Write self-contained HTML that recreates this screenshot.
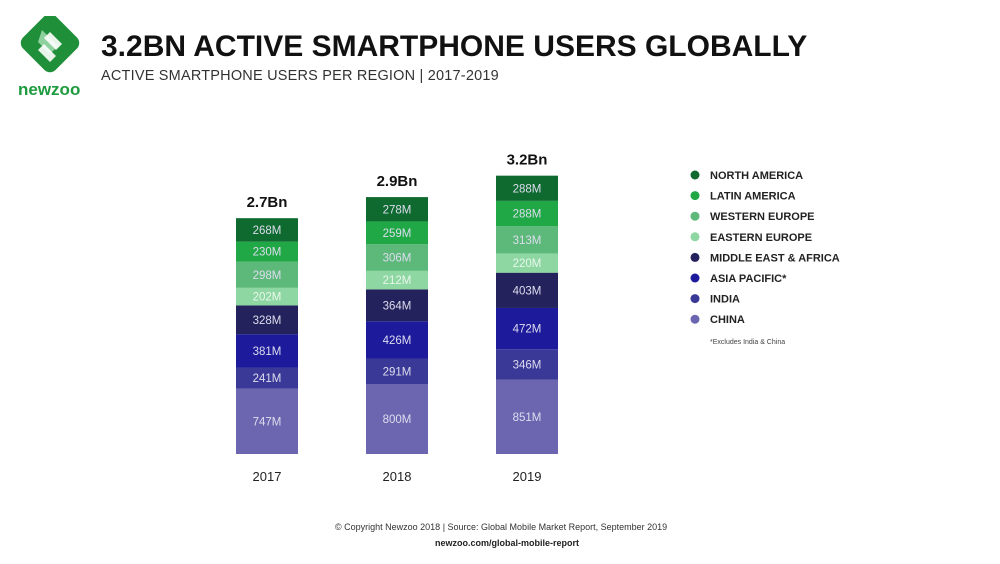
<!DOCTYPE html>
<html><head><meta charset="utf-8"><style>
body{margin:0;background:#fff;width:1000px;height:564px;overflow:hidden;font-family:"Liberation Sans",sans-serif}
.t{position:absolute;white-space:nowrap}
</style></head><body>
<div style="position:absolute;left:16px;top:16px;width:70px;height:85px">
<svg width="70" height="85" viewBox="0 0 70 85">
<rect x="11" y="4" width="46" height="46" rx="8" transform="rotate(45 34 27)" fill="#1f8f3a"/>
<path d="M26 14 L42 30 L34 38 L22 26 Z" fill="#8fd19e"/>
<path d="M34 16 L46 28 L40 34 L28 22 Z" fill="#fff" opacity=".9"/>
<path d="M28 28 L40 40 L34 46 L22 34 Z" fill="#fff" opacity=".9"/>
</svg>
<div class="t" style="left:2px;top:64px;font-size:17px;font-weight:bold;color:#1f9b3f">newzoo</div>
</div>
<div class="t" style="left:101px;top:30px;font-size:30px;font-weight:bold;color:#111">3.2BN ACTIVE SMARTPHONE USERS GLOBALLY</div>
<div class="t" style="left:101px;top:68px;font-size:14.5px;color:#333;letter-spacing:.2px">ACTIVE SMARTPHONE USERS PER REGION | 2017-2019</div>
<svg id="chart" width="1000" height="564" style="position:absolute;left:0;top:0"></svg>
<div class="t" style="left:335px;top:522px;font-size:9px;color:#333">© Copyright Newzoo 2018 | Source: Global Mobile Market Report, September 2019</div>
<div class="t" style="left:435px;top:538px;font-size:9px;font-weight:bold;color:#222">newzoo.com/global-mobile-report</div>
<script>
const years=["2017","2018","2019"];
const totals=["2.7Bn","2.9Bn","3.2Bn"];
const regions=["CHINA","INDIA","ASIA PACIFIC*","MIDDLE EAST & AFRICA","EASTERN EUROPE","WESTERN EUROPE","LATIN AMERICA","NORTH AMERICA"];
const china=[747,800,851];
const india=[241,291,346];
const asiaPacific=[381,426,472];
const mea=[328,364,403];
const easternEurope=[202,212,220];
const westernEurope=[298,306,313];
const latinAmerica=[230,259,288];
const northAmerica=[268,278,288];
const series=[china,india,asiaPacific,mea,easternEurope,westernEurope,latinAmerica,northAmerica];
const colors=["#6c66b0","#3b3997","#1d1a9c","#24225c","#8ed7a2","#5cb97a","#1fa845","#0e6a2f"];
const ns="http://www.w3.org/2000/svg";
const svg=document.getElementById('chart');
const baseY=454, scale=0.0875, barW=62;
const x=i=>236+i*130;
const y=v=>baseY-v*scale;
function mk(t,a){const e=document.createElementNS(ns,t);for(const k in a)e.setAttribute(k,a[k]);svg.appendChild(e);return e;}
years.forEach((yr,i)=>{
  let cum=0;
  series.forEach((s,j)=>{
    const v=s[i];
    const r=mk('rect',{x:x(i),y:y(cum+v),width:barW,height:y(cum)-y(cum+v),fill:colors[j]});
    
    
    const t=mk('text',{x:x(i)+barW/2,y:(y(cum)+y(cum+v))/2+4,'text-anchor':'middle','font-size':'11.5',fill:j==4?'#e8f7ec':'#dde',"font-family":"Liberation Sans"});
    t.textContent=v+'M';
    
    
    cum+=v;
  });
  const tt=mk('text',{x:x(i)+barW/2,y:y(cum)-11,'text-anchor':'middle','font-size':'15','font-weight':'bold',fill:'#111',"font-family":"Liberation Sans"});
  tt.textContent=totals[i];
  
  
  const yl=mk('text',{x:x(i)+barW/2,y:481,'text-anchor':'middle','font-size':'13',fill:'#222',"font-family":"Liberation Sans"});
  yl.textContent=yr;
  
  
});
for(let k=0;k<8;k++){
  const j=7-k, ly=175+k*20.6;
  const c=mk('circle',{cx:695,cy:ly,r:4.5,fill:colors[j]});
  
  
  const t=mk('text',{x:710,y:ly+4,'font-size':'11','font-weight':'bold',fill:'#222',"font-family":"Liberation Sans"});
  t.textContent=regions[j];
  
  
}
const fn=mk('text',{x:710,y:344,'font-size':'7',fill:'#444',"font-family":"Liberation Sans"});
fn.textContent="*Excludes India & China";


</script>
</body></html>
